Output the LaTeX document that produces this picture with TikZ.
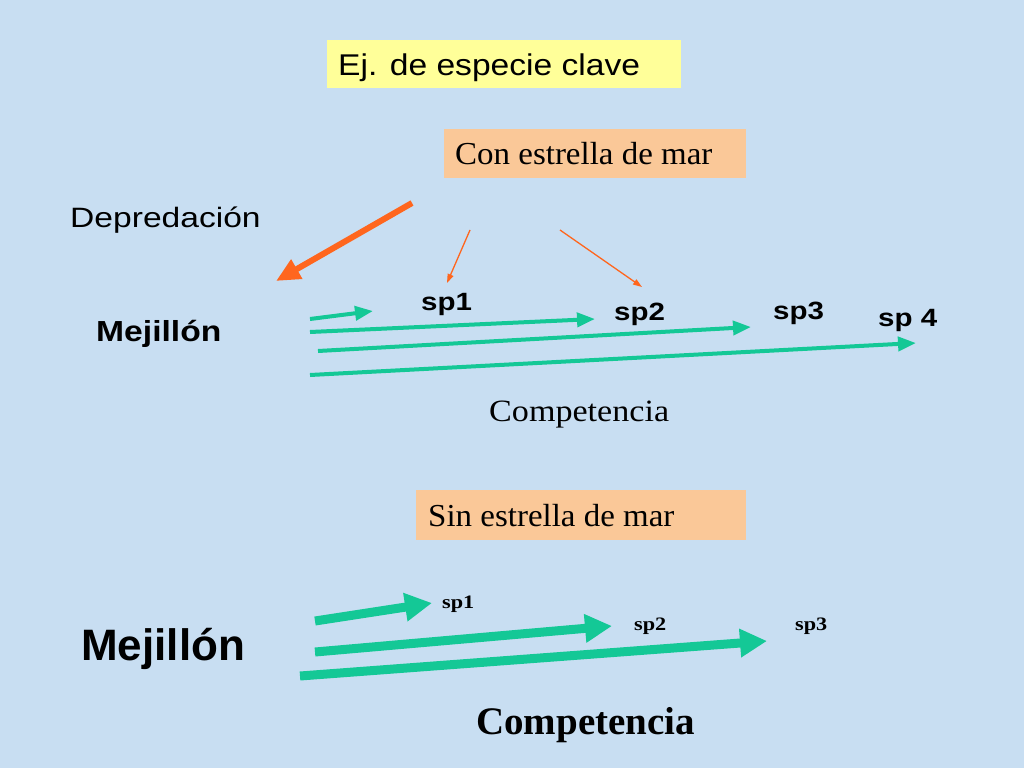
\documentclass[tikz,border=0pt]{standalone}
\usepackage{fontspec}
\setmainfont{Liberation Serif}
\setsansfont{Liberation Sans}
\usetikzlibrary{arrows.meta}
\definecolor{bg}{RGB}{200,222,242}
\definecolor{ybox}{RGB}{255,255,153}
\definecolor{obox}{RGB}{250,200,152}
\definecolor{orarrow}{RGB}{255,102,30}
\definecolor{grarrow}{RGB}{20,200,150}
\tikzset{
  lbl/.style={inner sep=0pt, anchor=base west},
  sansA/.style 2 args={font=\sffamily\fontsize{#1}{#1}\selectfont\addfontfeatures{FakeStretch=#2}},
  sansB/.style 2 args={font=\sffamily\bfseries\fontsize{#1}{#1}\selectfont\addfontfeatures{FakeStretch=#2}},
  serA/.style 2 args={font=\rmfamily\fontsize{#1}{#1}\selectfont\addfontfeatures{FakeStretch=#2}},
  serB/.style 2 args={font=\rmfamily\bfseries\fontsize{#1}{#1}\selectfont\addfontfeatures{FakeStretch=#2}},
  garrow/.style={draw=grarrow, line width=4pt, -{Triangle[length=18pt,width=14pt]}},
  gbig/.style={draw=grarrow, line width=9pt, -{Triangle[length=27pt,width=27pt]}},
  othick/.style={draw=orarrow, line width=6pt, -{Triangle[length=24pt,width=21pt]}},
  othin/.style={draw=orarrow, line width=1.3pt, -{Triangle[length=9pt,width=6pt]}},
}
\begin{document}
\begin{tikzpicture}[x=1pt,y=-1pt]
\fill[bg] (0,0) rectangle (1024,768);
\useasboundingbox (0,0) rectangle (1024,768);
% boxes
\fill[ybox] (327,40) rectangle (681,88);
\fill[obox] (444,129) rectangle (746,178);
\fill[obox] (416,490) rectangle (746,540);
\node[lbl, sansA={30}{1.12}] (ej) at (338,75) {Ej. de especie clave};
\node[lbl, serA={32}{1.03}] (con) at (455,164) {Con estrella de mar};
\node[lbl, serA={32}{1.03}] (sin) at (428,526) {Sin estrella de mar};
% labels
\node[lbl, sansA={28}{1.2}] (dep) at (70,227) {Depredación};
\node[lbl, sansB={29}{1.16}] (mej) at (96,341) {Mejillón};
\node[lbl, sansB={25}{1.18}] (s1) at (421,310) {sp1};
\node[lbl, sansB={25}{1.18}] (s2) at (614,320) {sp2};
\node[lbl, sansB={25}{1.18}] (s3) at (773,319) {sp3};
\node[lbl, sansB={25}{1.18}] (s4) at (878,326) {sp 4};
\node[lbl, serA={31}{1.1}] (comp) at (489,421) {Competencia};
\node[lbl, sansB={44}{1.0}] (mejb) at (81,660) {Mejillón};
\node[lbl, serB={19}{1.17}] (b1) at (442,608) {sp1};
\node[lbl, serB={19}{1.17}] (b2) at (634,630) {sp2};
\node[lbl, serB={19}{1.17}] (b3) at (795,630) {sp3};
\node[lbl, serB={39}{1.0}] (compb) at (476,734) {Competencia};
% coordinates
\coordinate (oa) at (412,203); \coordinate (ob) at (276,281);
\coordinate (t1a) at (470,230); \coordinate (t1b) at (447,283);
\coordinate (t2a) at (560,230); \coordinate (t2b) at (642,287);
\coordinate (g1a) at (310,319); \coordinate (g1b) at (373,311);
\coordinate (g2a) at (310,332); \coordinate (g2b) at (595,319);
\coordinate (g3a) at (318,351); \coordinate (g3b) at (751,327);
\coordinate (g4a) at (310,375); \coordinate (g4b) at (916,343);
\coordinate (h1a) at (315,621); \coordinate (h1b) at (432,603);
\coordinate (h2a) at (315,652); \coordinate (h2b) at (612,626);
\coordinate (h3a) at (300,676); \coordinate (h3b) at (767,641);
% arrows
\draw[othick] (oa) -- (ob);
\draw[othin] (t1a) -- (t1b);
\draw[othin] (t2a) -- (t2b);
\draw[garrow] (g1a) -- (g1b);
\draw[garrow] (g2a) -- (g2b);
\draw[garrow] (g3a) -- (g3b);
\draw[garrow] (g4a) -- (g4b);
\draw[gbig] (h1a) -- (h1b);
\draw[gbig] (h2a) -- (h2b);
\draw[gbig] (h3a) -- (h3b);
\end{tikzpicture}
\end{document}
